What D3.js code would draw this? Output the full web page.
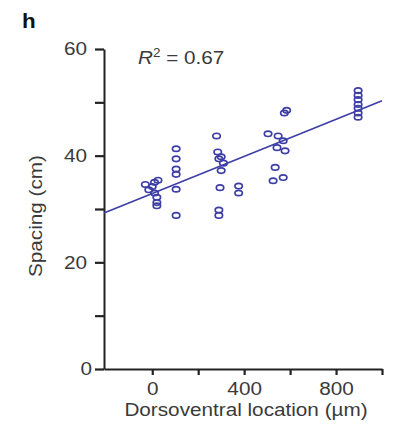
<!DOCTYPE html>
<html>
<head>
<meta charset="utf-8">
<script src="https://cdn.jsdelivr.net/npm/d3@7/dist/d3.min.js"></script>
<style>
  html, body { margin: 0; padding: 0; background: #fff; }
  svg { display: block; }
  text { font-family: "Liberation Sans", Arial, Helvetica, sans-serif; fill: #3a3a3a; }
</style>
</head>
<body>
<script>
// ---- data ----
const locations = [
  -30, -15, 0, 10, 25, 10, 20, 20, 20,
  104, 104, 104, 104, 104, 104,
  280, 285, 290, 300, 310, 300, 295, 290, 290,
  376, 376,
  504, 548, 570, 543, 578, 535, 570, 526, 575, 585,
  896, 896, 896, 896, 896, 896, 896
];
const spacings = [
  34.6, 33.6, 34.2, 35.0, 35.4, 33.0, 32.2, 31.2, 30.6,
  41.3, 39.4, 37.5, 36.5, 33.7, 28.8,
  43.7, 40.7, 39.4, 39.8, 38.6, 37.2, 34.0, 29.8, 28.8,
  34.3, 33.0,
  44.1, 43.7, 42.8, 41.5, 40.9, 37.8, 35.9, 35.3, 48.0, 48.5,
  52.2, 51.3, 50.5, 49.6, 48.9, 48.0, 47.2
];
const fitIntercept = 32.9;   // cm at 0 µm
const fitSlope = 0.0174;     // cm per µm
const r2Label = "0.67";
const xTicks = [0, 200, 400, 600, 800, 1000];
const xTickLabels = ["0", "", "400", "", "800", ""];
const yTicks = [0, 10, 20, 30, 40, 50, 60];
const yTickLabels = ["0", "", "20", "", "40", "", "60"];
const panelLetter = "h";
const xTitle = "Dorsoventral location (µm)";
const yTitle = "Spacing (cm)";

// ---- drawing ----
const W = 396, H = 429;
const svg = d3.select("body").append("svg").attr("width", W).attr("height", H);

const x = d3.scaleLinear().domain([-210, 1000]).range([104, 382]);
const y = d3.scaleLinear().domain([0, 60]).range([369, 49]);

const axisColor = "#222";
const markColor = "#3d3da6";
const fs = 18.5;     // font size
const sx = 1.12;     // horizontal stretch of glyphs (reference is widened)

// y axis
const yAxis = svg.append("g").attr("transform", `translate(${x(-210)},0)`)
  .call(d3.axisLeft(y).tickValues(yTicks).tickSize(9).tickSizeOuter(0).tickPadding(8)
    .tickFormat((d, i) => yTickLabels[i]));
yAxis.select(".domain").attr("stroke", axisColor).attr("stroke-width", 2);
yAxis.selectAll(".tick line").attr("stroke", axisColor).attr("stroke-width", 2.2);
yAxis.selectAll(".tick text").style("font-size", fs + "px").attr("font-family", null)
  .attr("x", d => (d === 0 ? -12 : -17) / sx)
  .attr("transform", `scale(${sx},1)`);

// x axis
const xAxis = svg.append("g").attr("transform", `translate(0,${y(0)})`)
  .call(d3.axisBottom(x).tickValues(xTicks).tickSize(6).tickSizeOuter(0).tickPadding(7)
    .tickFormat((d, i) => xTickLabels[i]));
xAxis.select(".domain").attr("stroke", axisColor).attr("stroke-width", 2);
xAxis.selectAll(".tick line").attr("stroke", axisColor).attr("stroke-width", 2.2);
xAxis.selectAll(".tick text").style("font-size", fs + "px").attr("font-family", null)
  .attr("transform", `scale(${sx},1)`);

// regression line
const xd = x.domain();
svg.append("line")
  .attr("x1", x(xd[0])).attr("y1", y(fitIntercept + fitSlope * xd[0]))
  .attr("x2", x(xd[1])).attr("y2", y(fitIntercept + fitSlope * xd[1]))
  .attr("stroke", markColor).attr("stroke-width", 1.6);

// points
svg.append("g").selectAll("ellipse")
  .data(locations.map((d, i) => [d, spacings[i]]))
  .join("ellipse")
  .attr("cx", d => x(d[0])).attr("cy", d => y(d[1]))
  .attr("rx", 3.7).attr("ry", 2.7)
  .attr("fill", "none").attr("stroke", markColor).attr("stroke-width", 1.7);

// titles
svg.append("text")
  .attr("transform", `translate(${(x(-210) + x(1000)) / 2 + 3},416) scale(${sx},1)`)
  .attr("text-anchor", "middle").style("font-size", fs + "px").text(xTitle);
svg.append("text")
  .attr("transform", `translate(42,${(y(0) + y(60)) / 2 + 7}) rotate(-90) scale(${sx},1)`)
  .attr("text-anchor", "middle").style("font-size", fs + "px").text(yTitle);

// panel letter
svg.append("text").attr("transform", `translate(22,28) scale(${sx},1)`)
  .style("font-size", "20px").style("font-weight", "bold").style("fill", "#111")
  .text(panelLetter);

// R^2 annotation
const r2 = svg.append("text").attr("transform", `translate(138,64) scale(${sx},1)`)
  .style("font-size", fs + "px");
r2.append("tspan").style("font-style", "italic").text("R");
r2.append("tspan").attr("dy", -7).style("font-size", "12px").text("2");
r2.append("tspan").attr("dy", 7).text(" = " + r2Label);
</script>
</body>
</html>
